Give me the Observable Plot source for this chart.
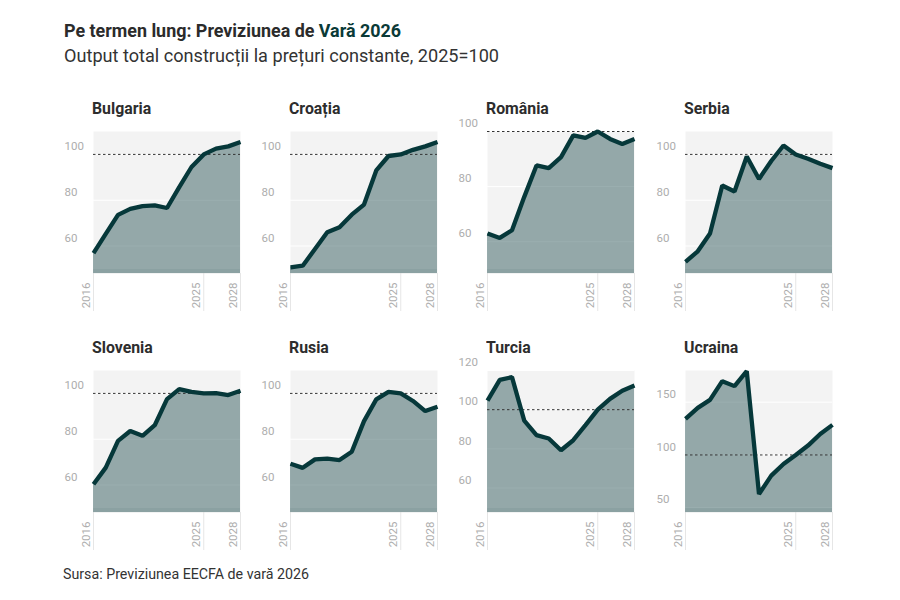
<!DOCTYPE html>
<html>
<head>
<meta charset="utf-8">
<script src="https://cdn.jsdelivr.net/npm/d3@7"></script>
<script src="https://cdn.jsdelivr.net/npm/@observablehq/plot@0.6"></script>
<style>
  html, body { margin: 0; padding: 0; background: #fff; }
  #root { position: relative; width: 900px; height: 600px; font-family: Roboto, "Noto Sans", sans-serif; color: #333; overflow: hidden; }
  .txt { position: absolute; white-space: nowrap; transform-origin: 0 0; }
  #title { left: 64px; top: 22px; font-size: 18.5px; line-height: 18px; font-weight: 700; color: #2b2b2b; }
  #title span { color: #0a3a37; }
  #subtitle { left: 64px; top: 48px; font-size: 17.5px; line-height: 17px; font-weight: 400; color: #333; }
  #caption { left: 63px; top: 567px; font-size: 14px; line-height: 14px; font-weight: 400; color: #333; }
  .ptitle { font-size: 16.5px; line-height: 16px; font-weight: 700; color: #2d2d2d; }
  .panel { position: absolute; }
</style>
</head>
<body>
<div id="root">
  <div id="title" class="txt">Pe termen lung: Previziunea de <span>Vară 2026</span></div>
  <div id="subtitle" class="txt">Output total construcții la prețuri constante, 2025=100</div>
  <div id="caption" class="txt">Sursa: Previziunea EECFA de vară 2026</div>
</div>
<script>
// ---- Data ----
const years = [2016, 2017, 2018, 2019, 2020, 2021, 2022, 2023, 2024, 2025, 2026, 2027, 2028];
const countries = ["Bulgaria", "Croația", "România", "Serbia", "Slovenia", "Rusia", "Turcia", "Ucraina"];
const bulgaria = [56.9, 65.3, 73.6, 76.2, 77.4, 77.7, 76.6, 85.7, 94.5, 100, 102.5, 103.5, 105.4];
const croatia  = [50.7, 51.4, 58.7, 66.0, 68.2, 73.7, 78.1, 93.0, 99.3, 100, 102.0, 103.5, 105.4];
const romania  = [63.0, 61.4, 64.2, 76.3, 87.7, 86.7, 90.7, 98.6, 97.7, 100, 97.3, 95.5, 97.3];
const serbia   = [53.1, 57.7, 65.5, 86.4, 83.8, 99.1, 89.3, 97.1, 103.9, 100, 98.1, 95.9, 94.0];
const slovenia = [60.3, 67.6, 79.3, 83.6, 81.5, 86.1, 97.5, 101.9, 100.7, 100, 100.1, 99.3, 101.2];
const rusia    = [69.3, 67.5, 71.2, 71.5, 70.9, 74.5, 87.9, 97.4, 100.7, 100, 96.7, 92.3, 94.2];
const turcia   = [104.6, 115.2, 116.6, 94.4, 87.0, 85.3, 79.3, 84.4, 92.1, 100, 105.5, 109.7, 112.3];
const ucraina  = [134.2, 144.6, 152.2, 169.9, 165.2, 179.4, 63.0, 80.4, 91.5, 100, 108.9, 119.9, 128.5];
const seriesList = [bulgaria, croatia, romania, serbia, slovenia, rusia, turcia, ucraina];
const yTicks = [[60, 80, 100], [60, 80, 100], [60, 80, 100], [60, 80, 100], [60, 80, 100], [60, 80, 100], [60, 80, 100, 120], [50, 100, 150]];
const yFloor = [48, 48, 48.5, 48, 48, 48, 47.5, 45.5];
const xTickYears = [2016, 2025, 2028];
const xTickLabels = ["2016", "2025", "2028"];
const baseline = 100;

// ---- Styles ----
const LINE = "#06383a";
const BG = "#f3f3f3";
const AXIS = "#adadad";

const root = document.getElementById("root");
const panelLefts = [93, 290, 487, 685];
const panelTops = [131, 370];
const mL = 31, mR = 2, mT = 16, mB = 40, pW = 147, pH = 142;

countries.forEach((name, i) => {
  const col = i % 4, row = Math.floor(i / 4);
  const vals = seriesList[i];
  const data = years.map((y, j) => ({year: y, value: vals[j]}));
  const top = Math.ceil(d3.max(vals) / 10) * 10;
  const floor = yFloor[i];
  const ticks = yTicks[i];
  const xt = xTickYears.map((y, k) => ({year: y, label: xTickLabels[k]}));

  const chart = Plot.plot({
    width: mL + pW + mR,
    height: mT + pH + mB,
    marginLeft: mL, marginRight: mR, marginTop: mT, marginBottom: mB,
    style: {fontFamily: "Roboto, sans-serif", background: "transparent", overflow: "visible"},
    x: {domain: [2016, 2028], axis: null},
    y: {domain: [floor, top], axis: null},
    marks: [
      Plot.frame({fill: BG, stroke: null}),
      Plot.axisX(xTickYears, {tickSize: 38, stroke: "#e6e6e6", text: null, label: null}),
      Plot.gridY(ticks, {stroke: "#ffffff", strokeOpacity: 1, strokeWidth: 1}),
      Plot.areaY(data, {x: "year", y: "value", y1: floor, fill: LINE, fillOpacity: 0.4}),
      Plot.ruleY([floor], {stroke: LINE, strokeOpacity: 0.06, strokeWidth: 4.5, dy: -2.25}),
      Plot.ruleY([baseline], {stroke: "#333", strokeWidth: 1, strokeDasharray: "2.5,2.5"}),
      Plot.line(data, {x: "year", y: "value", stroke: LINE, strokeWidth: 4.3, strokeLinejoin: "miter", strokeLinecap: "butt"}),
      Plot.text(ticks, {y: d => d, text: d => String(d), frameAnchor: "left", textAnchor: "start", dx: -29, dy: -8, fill: AXIS, fontSize: 11.5}),
      Plot.text(xt, {x: "year", text: "label", frameAnchor: "bottom", rotate: -90, textAnchor: "end", lineAnchor: "bottom", dy: 9, dx: -3.5, fill: AXIS, fontSize: 11.5})
    ]
  });
  const wrap = document.createElement("div");
  wrap.className = "panel";
  wrap.style.left = (panelLefts[col] - mL) + "px";
  wrap.style.top = (panelTops[row] - mT) + "px";
  wrap.appendChild(chart);
  root.appendChild(wrap);

  const t = document.createElement("div");
  t.className = "txt ptitle";
  t.textContent = name;
  t.style.left = (panelLefts[col] - 1) + "px";
  t.style.top = (panelTops[row] - 30) + "px";
  t.style.transform = "scaleX(0.96)";
  root.appendChild(t);
});

// fit main texts horizontally to mimic a condensed face
const fit = [["title", 337], ["subtitle", 435], ["caption", 246]];
fit.forEach(([id, w]) => {
  const el = document.getElementById(id);
  const r = el.getBoundingClientRect().width;
  el.style.transform = `scaleX(${w / r})`;
});
</script>
</body>
</html>
